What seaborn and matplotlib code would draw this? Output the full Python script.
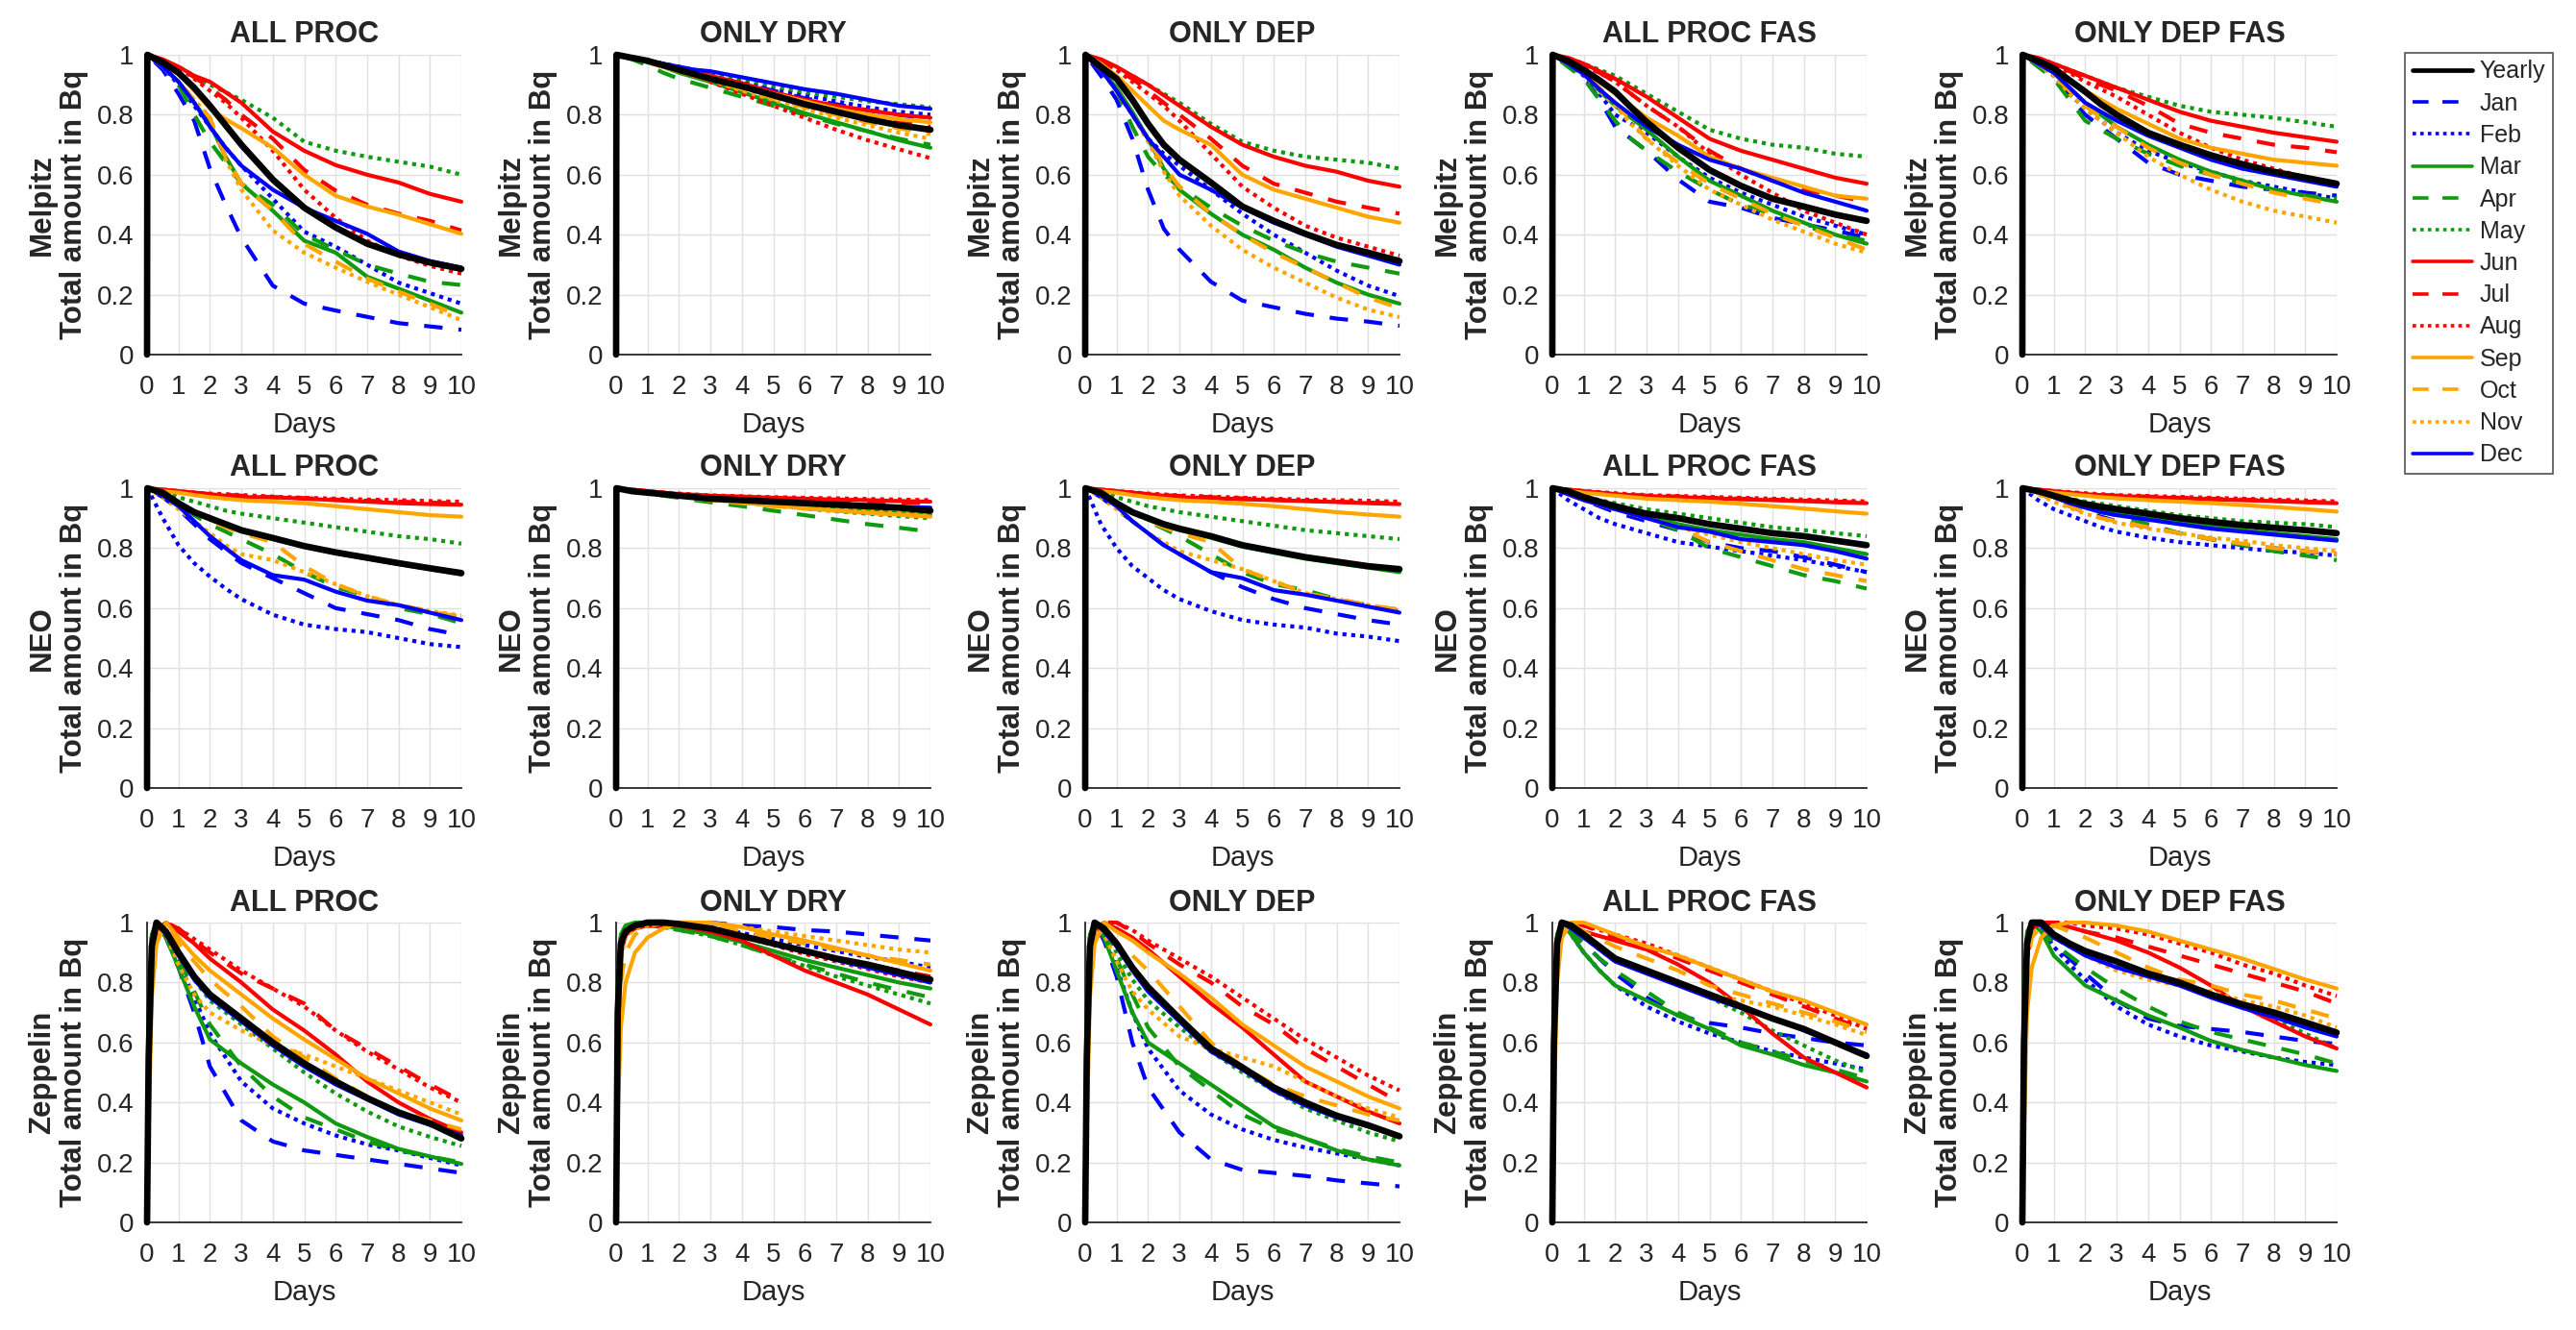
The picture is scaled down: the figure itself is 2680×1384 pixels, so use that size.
import pandas as pd
import matplotlib
matplotlib.use("Agg")
import matplotlib.pyplot as plt
import seaborn as sns
from matplotlib.lines import Line2D

# Rows / columns of the panel grid
stations = ["Melpitz", "NEO", "Zeppelin"]
processes = ["ALL PROC", "ONLY DRY", "ONLY DEP", "ALL PROC FAS", "ONLY DEP FAS"]
series_names = ["Yearly", "Jan", "Feb", "Mar", "Apr", "May", "Jun",
                "Jul", "Aug", "Sep", "Oct", "Nov", "Dec"]

# Time axis (days) for Melpitz / NEO and for Zeppelin
days_short = [0, 0.01, 0.5, 1, 1.5, 2, 2.5, 3, 4, 5, 6, 7, 8, 9, 10]
days_zeppelin = [0, 0.05, 0.15, 0.3, 0.6, 1, 1.5, 2, 3, 4, 5, 6, 7, 8, 9, 10]

yticks = [0, 0.2, 0.4, 0.6, 0.8, 1]
ytick_labels = ["0", "0.2", "0.4", "0.6", "0.8", "1"]
xticks = list(range(11))

# ---- Melpitz (rows: Yearly, Jan..Dec) ----
melpitz_all_proc = [
    [0, 1, .975, .94, .89, .83, .765, .70, .584, .49, .424, .37, .334, .307, .286],
    [0, 1, .95, .87, .78, .62, .50, .39, .23, .17, .147, .126, .105, .094, .083],
    [0, 1, .96, .90, .83, .76, .69, .63, .52, .41, .36, .30, .24, .205, .17],
    [0, 1, .96, .91, .84, .77, .66, .57, .48, .38, .34, .26, .22, .18, .14],
    [0, 1, .96, .90, .80, .71, .64, .57, .50, .40, .35, .30, .27, .243, .232],
    [0, 1, .98, .96, .93, .90, .875, .85, .79, .71, .68, .66, .643, .627, .60],
    [0, 1, .985, .96, .93, .91, .875, .84, .744, .68, .632, .60, .574, .536, .51],
    [0, 1, .98, .96, .925, .89, .85, .80, .72, .616, .547, .50, .47, .446, .414],
    [0, 1, .98, .96, .92, .88, .84, .79, .68, .55, .456, .38, .33, .296, .27],
    [0, 1, .975, .94, .88, .82, .785, .755, .69, .60, .53, .494, .467, .435, .403],
    [0, 1, .96, .91, .85, .79, .66, .57, .48, .37, .31, .254, .21, .17, .126],
    [0, 1, .96, .91, .85, .79, .65, .55, .414, .34, .29, .243, .20, .158, .115],
    [0, 1, .96, .91, .84, .76, .69, .63, .55, .49, .446, .403, .344, .312, .29],
]
melpitz_only_dry = [
    [0, 1, .99, .98, .965, .95, .935, .92, .895, .865, .835, .81, .785, .765, .75],
    [0, 1, .99, .98, .97, .955, .94, .93, .905, .88, .855, .835, .815, .80, .785],
    [0, 1, .99, .98, .97, .96, .945, .935, .91, .885, .865, .845, .825, .81, .80],
    [0, 1, .99, .975, .96, .94, .925, .91, .875, .84, .805, .775, .745, .715, .69],
    [0, 1, .985, .965, .94, .92, .905, .89, .86, .83, .80, .77, .745, .72, .70],
    [0, 1, .99, .98, .97, .96, .95, .94, .92, .895, .875, .86, .845, .835, .825],
    [0, 1, .99, .98, .97, .955, .945, .93, .905, .875, .85, .83, .815, .80, .79],
    [0, 1, .99, .98, .965, .95, .935, .92, .89, .86, .835, .81, .79, .775, .76],
    [0, 1, .99, .975, .96, .945, .93, .91, .87, .83, .79, .75, .715, .685, .655],
    [0, 1, .99, .98, .965, .95, .94, .925, .895, .87, .845, .82, .80, .785, .775],
    [0, 1, .99, .975, .96, .945, .93, .915, .885, .855, .825, .80, .775, .755, .735],
    [0, 1, .99, .975, .96, .945, .93, .915, .88, .85, .82, .79, .765, .74, .72],
    [0, 1, .99, .98, .97, .96, .95, .945, .925, .905, .885, .87, .85, .83, .82],
]
melpitz_only_dep = [
    [0, 1, .96, .92, .85, .77, .70, .65, .574, .494, .446, .403, .366, .34, .312],
    [0, 1, .93, .85, .72, .55, .42, .35, .243, .18, .158, .136, .12, .11, .096],
    [0, 1, .95, .88, .80, .72, .67, .63, .55, .47, .40, .34, .28, .23, .195],
    [0, 1, .95, .89, .81, .72, .62, .55, .47, .40, .35, .29, .24, .20, .17],
    [0, 1, .95, .88, .76, .66, .60, .56, .49, .43, .38, .34, .31, .29, .27],
    [0, 1, .98, .95, .93, .90, .87, .84, .77, .71, .68, .66, .65, .64, .62],
    [0, 1, .985, .96, .93, .90, .865, .83, .76, .70, .66, .63, .61, .58, .56],
    [0, 1, .98, .95, .92, .88, .84, .80, .72, .63, .57, .54, .51, .49, .47],
    [0, 1, .98, .95, .91, .87, .83, .78, .67, .56, .49, .43, .39, .36, .33],
    [0, 1, .97, .93, .88, .83, .78, .75, .70, .60, .55, .52, .49, .46, .44],
    [0, 1, .95, .88, .80, .72, .63, .56, .47, .40, .34, .29, .24, .19, .155],
    [0, 1, .95, .88, .80, .71, .61, .53, .43, .35, .29, .24, .19, .15, .125],
    [0, 1, .95, .88, .80, .72, .66, .60, .55, .49, .44, .40, .36, .33, .30],
]
melpitz_all_proc_fas = [
    [0, 1, .98, .95, .915, .877, .825, .776, .69, .616, .563, .52, .494, .467, .446],
    [0, 1, .965, .93, .85, .76, .72, .68, .584, .51, .49, .456, .435, .414, .39],
    [0, 1, .97, .93, .87, .80, .77, .74, .66, .59, .54, .50, .46, .43, .40],
    [0, 1, .97, .94, .88, .83, .79, .75, .66, .58, .53, .48, .44, .40, .37],
    [0, 1, .96, .92, .85, .78, .72, .68, .61, .55, .50, .47, .43, .40, .38],
    [0, 1, .99, .97, .95, .93, .90, .87, .81, .75, .72, .70, .69, .67, .66],
    [0, 1, .99, .97, .945, .92, .89, .86, .79, .72, .68, .65, .62, .59, .57],
    [0, 1, .985, .965, .94, .91, .87, .83, .76, .68, .62, .58, .55, .53, .51],
    [0, 1, .985, .965, .94, .91, .87, .83, .76, .67, .60, .54, .48, .44, .40],
    [0, 1, .98, .955, .91, .87, .83, .79, .73, .66, .62, .59, .56, .53, .52],
    [0, 1, .97, .94, .89, .84, .78, .72, .64, .57, .52, .47, .43, .39, .35],
    [0, 1, .97, .935, .88, .83, .77, .72, .63, .55, .50, .45, .41, .37, .34],
    [0, 1, .97, .935, .885, .84, .80, .76, .70, .65, .62, .58, .54, .51, .48],
]
melpitz_only_dep_fas = [
    [0, 1, .98, .955, .915, .877, .835, .80, .74, .70, .665, .635, .61, .59, .57],
    [0, 1, .965, .93, .86, .80, .76, .72, .64, .60, .58, .56, .55, .54, .53],
    [0, 1, .97, .93, .87, .82, .78, .74, .68, .64, .61, .58, .56, .54, .52],
    [0, 1, .97, .94, .89, .84, .80, .76, .70, .65, .61, .58, .55, .53, .51],
    [0, 1, .96, .92, .85, .78, .75, .72, .67, .63, .60, .57, .55, .53, .52],
    [0, 1, .99, .97, .95, .93, .91, .89, .86, .83, .81, .80, .79, .775, .76],
    [0, 1, .99, .97, .95, .93, .91, .89, .85, .81, .78, .76, .74, .725, .71],
    [0, 1, .985, .965, .945, .92, .90, .88, .83, .77, .74, .72, .70, .69, .675],
    [0, 1, .985, .965, .94, .91, .885, .86, .80, .74, .69, .65, .62, .59, .57],
    [0, 1, .98, .955, .915, .88, .85, .82, .77, .72, .69, .67, .65, .64, .63],
    [0, 1, .97, .93, .88, .83, .79, .76, .69, .64, .60, .57, .54, .52, .50],
    [0, 1, .97, .93, .87, .82, .78, .74, .66, .60, .55, .51, .48, .46, .44],
    [0, 1, .97, .94, .89, .84, .81, .78, .73, .69, .65, .62, .60, .58, .56],
]

# ---- NEO ----
neo_all_proc = [
    [0, 1, .985, .95, .92, .90, .88, .86, .834, .807, .786, .768, .75, .733, .717],
    [0, 1, .97, .93, .88, .83, .79, .75, .70, .65, .60, .58, .56, .53, .51],
    [0, 1, .90, .81, .75, .705, .665, .63, .578, .545, .53, .52, .50, .48, .47],
    [0, 1, .985, .95, .92, .895, .875, .855, .83, .805, .783, .765, .747, .73, .712],
    [0, 1, .98, .95, .91, .88, .855, .83, .78, .72, .67, .64, .60, .58, .55],
    [0, 1, .99, .97, .955, .94, .925, .915, .90, .885, .87, .855, .84, .83, .815],
    [0, 1, .995, .99, .985, .98, .975, .97, .97, .965, .96, .955, .95, .947, .945],
    [0, 1, .995, .99, .985, .98, .978, .975, .97, .967, .962, .958, .955, .952, .95],
    [0, 1, .995, .99, .985, .982, .98, .977, .972, .968, .965, .962, .96, .957, .955],
    [0, 1, .99, .985, .977, .97, .965, .96, .955, .95, .94, .93, .92, .91, .905],
    [0, 1, .98, .95, .92, .89, .87, .85, .82, .74, .68, .64, .61, .59, .57],
    [0, 1, .97, .93, .89, .85, .81, .78, .76, .72, .68, .64, .61, .59, .575],
    [0, 1, .975, .94, .89, .84, .80, .76, .71, .695, .655, .625, .61, .585, .56],
]
neo_only_dry = [
    [0, 1, .99, .985, .98, .975, .97, .965, .96, .955, .95, .945, .94, .935, .925],
    [0, 1, .99, .985, .98, .975, .97, .965, .958, .952, .946, .94, .934, .927, .92],
    [0, 1, .99, .985, .98, .975, .97, .967, .962, .957, .952, .947, .942, .936, .93],
    [0, 1, .99, .985, .98, .975, .97, .965, .955, .948, .94, .932, .925, .918, .91],
    [0, 1, .99, .983, .975, .968, .96, .953, .94, .925, .91, .895, .88, .868, .855],
    [0, 1, .99, .985, .98, .975, .968, .962, .952, .942, .932, .923, .915, .907, .90],
    [0, 1, .995, .99, .985, .98, .978, .975, .972, .968, .965, .962, .96, .957, .955],
    [0, 1, .995, .99, .985, .98, .976, .972, .968, .964, .96, .957, .955, .952, .95],
    [0, 1, .995, .99, .986, .982, .979, .976, .973, .97, .968, .966, .964, .962, .96],
    [0, 1, .99, .985, .98, .975, .968, .962, .952, .942, .933, .925, .918, .912, .905],
    [0, 1, .99, .985, .978, .972, .965, .96, .95, .94, .932, .925, .918, .911, .905],
    [0, 1, .99, .985, .98, .975, .968, .963, .955, .947, .94, .933, .927, .921, .915],
    [0, 1, .99, .985, .98, .975, .97, .966, .96, .955, .95, .946, .942, .938, .935],
]
neo_only_dep = [
    [0, 1, .985, .95, .92, .90, .88, .865, .84, .81, .79, .77, .755, .74, .73],
    [0, 1, .97, .93, .89, .85, .81, .78, .72, .67, .63, .60, .58, .56, .545],
    [0, 1, .88, .80, .74, .70, .66, .63, .59, .56, .545, .535, .515, .505, .49],
    [0, 1, .985, .95, .92, .895, .875, .86, .835, .805, .785, .765, .75, .735, .72],
    [0, 1, .98, .95, .92, .89, .865, .84, .78, .72, .68, .66, .63, .61, .59],
    [0, 1, .99, .97, .955, .94, .93, .92, .905, .89, .875, .86, .85, .84, .83],
    [0, 1, .995, .99, .985, .98, .975, .97, .967, .963, .96, .957, .954, .95, .947],
    [0, 1, .995, .99, .985, .98, .977, .974, .97, .966, .962, .958, .955, .952, .95],
    [0, 1, .995, .99, .986, .982, .979, .976, .972, .968, .965, .962, .96, .958, .955],
    [0, 1, .99, .985, .977, .97, .965, .96, .955, .948, .94, .93, .92, .912, .905],
    [0, 1, .98, .95, .92, .89, .87, .85, .82, .73, .69, .65, .63, .61, .595],
    [0, 1, .97, .93, .89, .85, .82, .79, .76, .73, .69, .65, .63, .61, .595],
    [0, 1, .975, .94, .89, .85, .81, .78, .72, .70, .66, .645, .625, .605, .585],
]
neo_all_proc_fas = [
    [0, 1, .99, .97, .955, .94, .927, .915, .90, .88, .865, .85, .84, .825, .81],
    [0, 1, .98, .96, .94, .92, .905, .89, .86, .82, .80, .79, .77, .745, .72],
    [0, 1, .96, .93, .90, .88, .865, .85, .82, .805, .79, .775, .76, .74, .72],
    [0, 1, .985, .965, .945, .93, .92, .91, .88, .86, .845, .83, .82, .80, .78],
    [0, 1, .985, .965, .945, .93, .915, .90, .86, .80, .77, .74, .71, .69, .665],
    [0, 1, .99, .975, .96, .95, .94, .93, .915, .90, .885, .87, .86, .85, .84],
    [0, 1, .995, .99, .985, .98, .977, .974, .97, .967, .963, .96, .957, .953, .95],
    [0, 1, .995, .99, .985, .98, .977, .975, .972, .968, .965, .962, .958, .955, .952],
    [0, 1, .995, .99, .987, .983, .98, .977, .974, .971, .968, .965, .962, .959, .956],
    [0, 1, .99, .985, .98, .975, .97, .965, .96, .955, .948, .94, .932, .923, .915],
    [0, 1, .98, .96, .945, .93, .915, .90, .87, .82, .79, .76, .73, .71, .69],
    [0, 1, .98, .96, .945, .93, .915, .90, .87, .845, .82, .80, .78, .76, .745],
    [0, 1, .98, .96, .945, .93, .915, .90, .87, .855, .83, .82, .81, .79, .765],
]
neo_only_dep_fas = [
    [0, 1, .99, .975, .96, .947, .938, .93, .915, .90, .888, .877, .868, .86, .85],
    [0, 1, .985, .96, .94, .92, .905, .89, .87, .85, .83, .81, .80, .79, .78],
    [0, 1, .96, .93, .91, .89, .87, .855, .835, .82, .81, .80, .79, .785, .775],
    [0, 1, .99, .97, .955, .94, .93, .92, .90, .89, .875, .86, .85, .84, .83],
    [0, 1, .985, .965, .945, .93, .92, .91, .88, .85, .83, .81, .79, .775, .76],
    [0, 1, .99, .98, .965, .955, .948, .94, .925, .91, .90, .89, .885, .88, .87],
    [0, 1, .995, .99, .985, .98, .977, .974, .97, .967, .963, .96, .957, .953, .95],
    [0, 1, .995, .99, .985, .98, .977, .975, .972, .968, .965, .962, .958, .955, .952],
    [0, 1, .995, .99, .987, .983, .98, .977, .974, .971, .968, .965, .962, .959, .956],
    [0, 1, .99, .985, .98, .975, .97, .966, .96, .955, .95, .944, .937, .93, .922],
    [0, 1, .985, .96, .94, .92, .90, .89, .87, .85, .83, .815, .80, .79, .78],
    [0, 1, .98, .955, .935, .915, .90, .885, .865, .85, .835, .825, .81, .80, .79],
    [0, 1, .99, .97, .95, .935, .92, .91, .895, .88, .865, .855, .845, .835, .825],
]

# ---- Zeppelin ----
zeppelin_all_proc = [
    [0, .55, .92, 1.0, .97, .90, .82, .76, .68, .60, .53, .47, .415, .367, .33, .28],
    [0, .6, .95, 1.0, .95, .85, .70, .52, .34, .27, .24, .225, .21, .195, .18, .165],
    [0, .6, .95, 1.0, .95, .87, .75, .63, .47, .38, .33, .29, .26, .24, .215, .19],
    [0, .65, .96, 1.0, .95, .85, .72, .61, .53, .46, .40, .33, .285, .245, .22, .195],
    [0, .6, .95, 1.0, .96, .88, .77, .66, .52, .42, .35, .31, .27, .24, .22, .20],
    [0, .6, .95, 1.0, .97, .90, .81, .74, .66, .58, .50, .43, .37, .32, .285, .255],
    [0, .4, .85, .97, 1.0, .97, .93, .88, .80, .71, .64, .56, .47, .40, .345, .30],
    [0, .4, .85, .97, 1.0, .98, .94, .90, .83, .78, .73, .64, .58, .52, .46, .405],
    [0, .4, .85, .97, 1.0, .98, .945, .91, .84, .78, .72, .64, .57, .51, .45, .40],
    [0, .3, .75, .93, 1.0, .95, .89, .84, .76, .68, .61, .545, .48, .43, .38, .34],
    [0, .4, .85, .97, .99, .93, .87, .81, .72, .62, .55, .48, .42, .37, .34, .31],
    [0, .5, .9, .98, .96, .86, .76, .70, .64, .59, .56, .52, .48, .44, .40, .36],
    [0, .55, .92, 1.0, .96, .89, .81, .75, .67, .59, .52, .46, .41, .36, .325, .29],
]
zeppelin_only_dry = [
    [0, .7, .93, .97, .99, 1.0, 1.0, .995, .98, .955, .93, .905, .88, .86, .835, .81],
    [0, .75, .95, .98, .99, 1.0, 1.0, 1.0, 1.0, .99, .985, .975, .97, .96, .95, .94],
    [0, .7, .93, .97, .99, 1.0, 1.0, .995, .985, .965, .945, .925, .905, .885, .87, .85],
    [0, .8, .96, .99, 1.0, 1.0, .99, .98, .96, .935, .905, .875, .85, .825, .80, .78],
    [0, .75, .95, .98, .99, .99, .985, .975, .955, .925, .89, .86, .83, .80, .775, .75],
    [0, .75, .95, .98, .99, .99, .985, .975, .955, .925, .89, .855, .82, .79, .76, .73],
    [0, .65, .9, .96, .98, .99, .99, .99, .97, .94, .89, .84, .80, .76, .71, .66],
    [0, .65, .9, .96, .98, .99, 1.0, .995, .98, .955, .93, .905, .88, .86, .84, .82],
    [0, .65, .9, .96, .98, .99, 1.0, .995, .98, .955, .925, .895, .87, .845, .82, .80],
    [0, .35, .65, .80, .90, .95, .98, 1.0, 1.0, .985, .96, .94, .915, .89, .865, .84],
    [0, .5, .8, .9, .96, .985, 1.0, 1.0, .99, .97, .95, .93, .91, .89, .875, .86],
    [0, .6, .88, .95, .98, .99, 1.0, 1.0, .995, .985, .97, .955, .94, .925, .91, .90],
    [0, .7, .93, .97, .99, 1.0, 1.0, .995, .98, .955, .93, .905, .875, .85, .825, .80],
]
zeppelin_only_dep = [
    [0, .55, .92, 1.0, .98, .93, .85, .785, .68, .58, .517, .45, .40, .356, .324, .287],
    [0, .6, .95, 1.0, .94, .82, .60, .45, .30, .21, .175, .165, .155, .14, .13, .12],
    [0, .6, .95, 1.0, .95, .85, .70, .58, .44, .36, .31, .275, .25, .23, .21, .19],
    [0, .65, .96, 1.0, .95, .84, .70, .60, .53, .46, .39, .32, .28, .24, .21, .19],
    [0, .6, .95, 1.0, .96, .88, .76, .65, .52, .44, .36, .31, .28, .245, .22, .20],
    [0, .6, .95, 1.0, .97, .90, .81, .74, .65, .57, .50, .44, .38, .34, .30, .27],
    [0, .4, .85, .97, 1.0, .98, .95, .91, .82, .73, .65, .56, .47, .42, .37, .33],
    [0, .4, .85, .97, 1.0, 1.0, .97, .93, .86, .80, .72, .66, .58, .52, .46, .40],
    [0, .4, .85, .97, 1.0, 1.0, .975, .94, .88, .82, .75, .68, .61, .55, .49, .44],
    [0, .3, .75, .93, 1.0, .97, .94, .90, .83, .75, .66, .59, .52, .47, .42, .38],
    [0, .4, .85, .97, .99, .93, .89, .84, .72, .60, .52, .46, .42, .39, .36, .34],
    [0, .5, .9, .98, .96, .87, .77, .71, .62, .58, .55, .52, .47, .42, .38, .35],
    [0, .55, .92, 1.0, .97, .92, .84, .77, .67, .57, .51, .44, .39, .35, .32, .29],
]
zeppelin_all_proc_fas = [
    [0, .6, .93, 1.0, .99, .96, .92, .88, .84, .80, .76, .72, .68, .645, .60, .555],
    [0, .65, .95, 1.0, .97, .93, .88, .83, .75, .69, .665, .65, .63, .615, .60, .59],
    [0, .65, .95, 1.0, .96, .90, .84, .79, .72, .67, .63, .60, .57, .55, .53, .51],
    [0, .7, .96, 1.0, .96, .90, .84, .79, .74, .69, .645, .59, .56, .525, .50, .47],
    [0, .65, .95, 1.0, .97, .93, .88, .84, .77, .70, .65, .60, .57, .54, .51, .48],
    [0, .65, .95, 1.0, .98, .95, .91, .87, .84, .80, .75, .70, .64, .59, .54, .50],
    [0, .5, .9, 1.0, .99, .97, .955, .94, .91, .86, .80, .72, .63, .55, .50, .45],
    [0, .45, .88, .98, 1.0, .99, .97, .95, .92, .88, .84, .80, .76, .72, .68, .64],
    [0, .45, .88, .98, 1.0, .99, .975, .96, .93, .89, .85, .81, .77, .73, .69, .645],
    [0, .35, .8, .95, 1.0, 1.0, .98, .96, .92, .89, .85, .81, .77, .74, .70, .66],
    [0, .45, .88, .98, 1.0, .97, .945, .92, .88, .84, .79, .76, .73, .70, .67, .635],
    [0, .55, .92, .99, .98, .95, .915, .88, .84, .80, .76, .74, .72, .69, .66, .625],
    [0, .6, .93, 1.0, .98, .95, .91, .87, .83, .79, .75, .715, .68, .64, .60, .56],
]
zeppelin_only_dep_fas = [
    [0, .6, .93, 1.0, 1.0, .96, .93, .905, .87, .83, .80, .76, .727, .70, .667, .633],
    [0, .65, .95, 1.0, .98, .93, .88, .83, .74, .68, .655, .645, .635, .62, .605, .595],
    [0, .65, .95, 1.0, .98, .92, .86, .81, .72, .66, .62, .59, .57, .55, .535, .525],
    [0, .75, .97, 1.0, .97, .89, .84, .79, .74, .69, .65, .605, .575, .55, .525, .505],
    [0, .7, .96, 1.0, .98, .93, .89, .85, .78, .72, .67, .635, .61, .585, .56, .53],
    [0, .65, .95, 1.0, .99, .95, .92, .90, .86, .83, .80, .76, .72, .68, .63, .58],
    [0, .5, .9, .98, 1.0, 1.0, .985, .97, .94, .90, .85, .79, .72, .67, .62, .58],
    [0, .45, .88, .97, .99, 1.0, .985, .97, .95, .92, .89, .86, .83, .80, .77, .73],
    [0, .45, .88, .97, .99, 1.0, 1.0, .99, .98, .96, .93, .90, .86, .83, .79, .755],
    [0, .3, .7, .85, .95, .99, 1.0, 1.0, .99, .97, .94, .91, .88, .845, .81, .78],
    [0, .45, .85, .95, .99, .99, .97, .95, .90, .85, .81, .79, .76, .74, .71, .68],
    [0, .55, .9, .97, .99, .96, .925, .89, .84, .81, .79, .77, .74, .72, .69, .65],
    [0, .6, .93, 1.0, .99, .95, .92, .89, .85, .82, .79, .75, .715, .685, .65, .62],
]

panel_values = [
    [melpitz_all_proc, melpitz_only_dry, melpitz_only_dep, melpitz_all_proc_fas, melpitz_only_dep_fas],
    [neo_all_proc, neo_only_dry, neo_only_dep, neo_all_proc_fas, neo_only_dep_fas],
    [zeppelin_all_proc, zeppelin_only_dry, zeppelin_only_dep, zeppelin_all_proc_fas, zeppelin_only_dep_fas],
]

# long table
records = []
for r, station in enumerate(stations):
    days = days_zeppelin if station == "Zeppelin" else days_short
    for c, proc in enumerate(processes):
        for name, vals in zip(series_names, panel_values[r][c]):
            for d, v in zip(days, vals):
                records.append((station, proc, name, d, v))
df = pd.DataFrame(records, columns=["station", "process", "series", "day", "value"])

# Styles
GREEN = "#0f9a0f"
ORANGE = "#ffa500"
series_colors = ["black", "blue", "blue", GREEN, GREEN, GREEN,
                 "red", "red", "red", ORANGE, ORANGE, ORANGE, "blue"]
DASH = (0, (4.6, 4.0))
DOT = (0, (1, 1.2))
series_ls = ["-", DASH, DOT, "-", DASH, DOT, "-", DASH, DOT, "-", DASH, DOT, "-"]

sns.set_style("white")
plt.rcParams["font.family"] = ["Liberation Sans", "DejaVu Sans"]

W, H = 2680, 1384
col_left = [153, 641, 1129, 1615, 2104]
row_top = [57, 508, 960]
ax_w, ax_h = 327, 312
TXT = "#262626"

fig = plt.figure(figsize=(W / 100, H / 100), dpi=100)

draw_order = list(range(1, 13)) + [0]  # months first, Yearly on top

for r, station in enumerate(stations):
    for c, proc in enumerate(processes):
        ax = fig.add_axes([col_left[c] / W, 1 - (row_top[r] + ax_h) / H, ax_w / W, ax_h / H])
        sub = df[(df.station == station) & (df.process == proc)]
        for i in draw_order:
            name = series_names[i]
            s = sub[sub.series == name]
            sns.lineplot(data=s, x="day", y="value", ax=ax, color=series_colors[i],
                         linestyle=series_ls[i], lw=4.8 if i == 0 else 3.0,
                         estimator=None, errorbar=None, sort=False, legend=False,
                         clip_on=False, zorder=5 if i == 0 else 3)
        ax.set_xlim(0, 10)
        ax.set_ylim(0, 1)
        ax.set_xticks(xticks)
        ax.set_xticklabels([str(t) for t in xticks])
        ax.set_yticks(yticks)
        ax.set_yticklabels(ytick_labels)
        ax.grid(True, color="#e0e0e0", lw=1)
        ax.set_axisbelow(True)
        for side in ["top", "right"]:
            ax.spines[side].set_visible(False)
        for side in ["left", "bottom"]:
            ax.spines[side].set_color(TXT)
            ax.spines[side].set_linewidth(1.3)
        ax.tick_params(axis="x", direction="in", length=5, width=1, pad=15,
                       labelsize=20, colors=TXT)
        ax.tick_params(axis="y", direction="in", length=0, pad=10,
                       labelsize=20, colors=TXT)
        ax.set_title(proc, fontsize=22, fontweight="bold", pad=9)
        ax.set_xlabel("Days", fontsize=21, color=TXT, labelpad=9)
        ax.set_ylabel(station + "\nTotal amount in Bq", fontsize=22.5,
                      fontweight="bold", labelpad=6, linespacing=1.15)

handles = [Line2D([], [], color=series_colors[i], linestyle=series_ls[i],
                  lw=3.4 if i == 0 else 2.6) for i in range(13)]
leg = fig.legend(handles, series_names, loc="upper left",
                 bbox_to_anchor=(2502 / W, 1 - 55 / H), fontsize=18,
                 frameon=True, fancybox=False, edgecolor=TXT,
                 handlelength=2.5, handletextpad=0.3, labelspacing=0.37,
                 borderpad=0.3, borderaxespad=0)
leg.get_frame().set_linewidth(1.2)

fig.savefig("out.png", dpi=100)
